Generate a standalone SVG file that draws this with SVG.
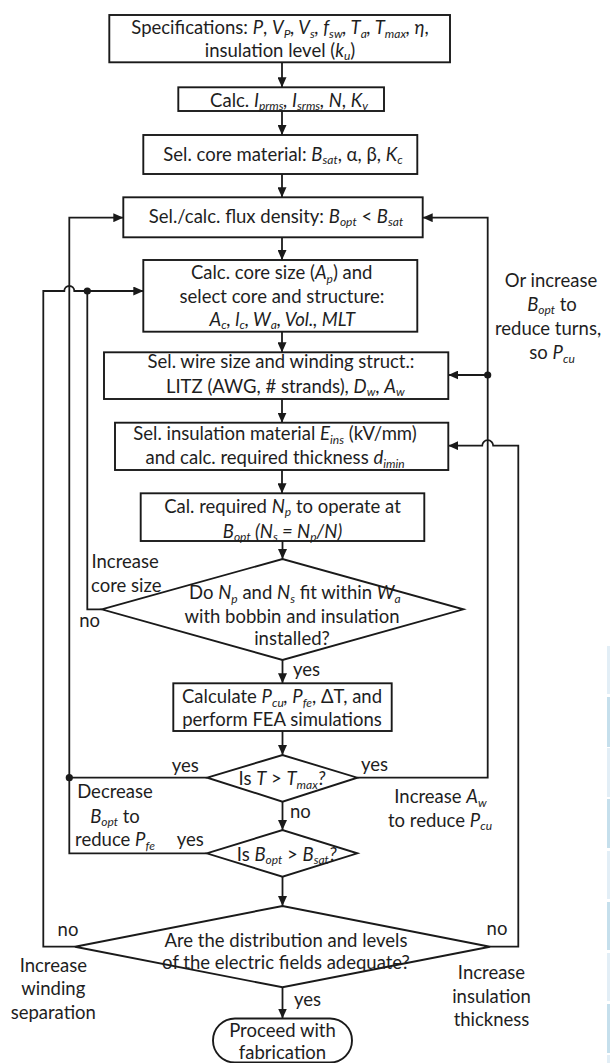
<svg xmlns="http://www.w3.org/2000/svg" width="610" height="1063" viewBox="0 0 610 1063">
<style>
.t{font-family:Lato,"Liberation Sans",sans-serif;font-size:18.5px;fill:#1e1e1e;text-anchor:middle}
.l{text-anchor:start}
.i{font-style:italic}
.s{font-size:12px;font-style:italic}
.box{fill:#fff;stroke:#1a1a1a;stroke-width:1.9}
.ln{fill:none;stroke:#1a1a1a;stroke-width:1.8}
.dot{fill:#1a1a1a}
</style>
<defs>
<marker id="ah" viewBox="0 0 10 9" refX="10" refY="4.5" markerWidth="10" markerHeight="9" markerUnits="userSpaceOnUse" orient="auto">
<path d="M0,0 L10,4.5 L0,9 z" fill="#1a1a1a"/>
</marker>
</defs>
<rect width="610" height="1063" fill="#fff"/>

<g id="connectors">
<path class="ln" d="M282,62.3 V87.3" marker-end="url(#ah)"/>
<path class="ln" d="M282,111 V135" marker-end="url(#ah)"/>
<path class="ln" d="M282,174 V197.3" marker-end="url(#ah)"/>
<path class="ln" d="M282,237.3 V260" marker-end="url(#ah)"/>
<path class="ln" d="M282,331.7 V352.3" marker-end="url(#ah)"/>
<path class="ln" d="M282,399 V422.7" marker-end="url(#ah)"/>
<path class="ln" d="M282,470 V493.3" marker-end="url(#ah)"/>
<path class="ln" d="M282.5,541 V559" marker-end="url(#ah)"/>
<path class="ln" d="M282.5,660 V683.3" marker-end="url(#ah)"/>
<path class="ln" d="M282.5,731 V755" marker-end="url(#ah)"/>
<path class="ln" d="M282.5,801.7 V830" marker-end="url(#ah)"/>
<path class="ln" d="M282.5,876.7 V906" marker-end="url(#ah)"/>
<path class="ln" d="M282.5,987.3 V1018.5" marker-end="url(#ah)"/>
<path class="ln" d="M357.3,777.7 H487.7 V217.7 H422.7" marker-end="url(#ah)"/>
<path class="ln" d="M487.7,375 H448.3" marker-end="url(#ah)"/>
<path class="ln" d="M490,946.7 H518.3 V445.7 H493.2 A5.5,5.5 0 0 0 482.2,445.7 H448.3" marker-end="url(#ah)"/>
<path class="ln" d="M207.3,777.7 H69.3"/>
<path class="ln" d="M206.7,853.3 H69.3 V217.7 H123.3" marker-end="url(#ah)"/>
<path class="ln" d="M101.7,609.3 H87.3 V291"/>
<path class="ln" d="M75,946.7 H43.3 V291 H64.3 A5,5 0 0 1 74.3,291 H143.3" marker-end="url(#ah)"/>
<circle class="dot" cx="87.3" cy="291" r="3.6"/>
<circle class="dot" cx="69.3" cy="777.7" r="3.6"/>
<circle class="dot" cx="487.7" cy="375" r="3.6"/>
</g>

<g id="n1"><rect class="box" x="109.3" y="15" width="340.7" height="47.3"/>
<text class="t" x="280" y="34.3">Specifications: <tspan class="i">P</tspan>, <tspan class="i">V</tspan><tspan class="s" dy="3.5">P</tspan><tspan class="i" dy="-3.5">, V</tspan><tspan class="s" dy="3.5">s</tspan><tspan class="i" dy="-3.5">, f</tspan><tspan class="s" dy="3.5">sw</tspan><tspan class="i" dy="-3.5">, T</tspan><tspan class="s" dy="3.5">a</tspan><tspan class="i" dy="-3.5">, T</tspan><tspan class="s" dy="3.5">max</tspan><tspan class="i" dy="-3.5">, η</tspan>,</text>
<text class="t" x="280" y="56.7">insulation level (<tspan class="i">k</tspan><tspan class="s" dy="3.5">u</tspan><tspan dy="-3.5">)</tspan></text></g>

<g id="n2"><rect class="box" x="178.3" y="87.3" width="205.7" height="23.7"/>
<text class="t" x="289" y="106.7">Calc. <tspan class="i">I</tspan><tspan class="s" dy="3.5">prms</tspan><tspan class="i" dy="-3.5">, I</tspan><tspan class="s" dy="3.5">srms</tspan><tspan class="i" dy="-3.5">, N</tspan>, <tspan class="i">K</tspan><tspan class="s" dy="3.5">v</tspan></text></g>

<g id="n3"><rect class="box" x="143.3" y="135" width="274" height="39"/>
<text class="t" x="283" y="160.7">Sel. core material: <tspan class="i">B</tspan><tspan class="s" dy="3.5">sat</tspan><tspan dy="-3.5">, α, β, </tspan><tspan class="i">K</tspan><tspan class="s" dy="3.5">c</tspan></text></g>

<g id="n4"><rect class="box" x="123.3" y="197.3" width="299.4" height="40"/>
<text class="t" x="276" y="222.7">Sel./calc. flux density: <tspan class="i">B</tspan><tspan class="s" dy="3.5">opt</tspan><tspan dy="-3.5"> &lt; </tspan><tspan class="i">B</tspan><tspan class="s" dy="3.5">sat</tspan></text></g>

<g id="n5"><rect class="box" x="143.3" y="260" width="274" height="71.7"/>
<text class="t" x="281.7" y="279.3">Calc. core size (<tspan class="i">A</tspan><tspan class="s" dy="3.5">p</tspan><tspan dy="-3.5">) and</tspan></text>
<text class="t" x="282" y="302.7">select core and structure:</text>
<text class="t i" x="282.3" y="325.7">A<tspan class="s" dy="3.5">c</tspan><tspan dy="-3.5">, l</tspan><tspan class="s" dy="3.5">c</tspan><tspan dy="-3.5">, W</tspan><tspan class="s" dy="3.5">a</tspan><tspan dy="-3.5">, Vol., MLT</tspan></text></g>

<g id="n6"><rect class="box" x="104" y="352.3" width="344.3" height="46.7"/>
<text class="t" x="281" y="368.3">Sel. wire size and winding struct.:</text>
<text class="t" x="285.3" y="392.7">LITZ (AWG, # strands), <tspan class="i">D</tspan><tspan class="s" dy="3.5">w</tspan><tspan dy="-3.5">, </tspan><tspan class="i">A</tspan><tspan class="s" dy="3.5">w</tspan></text></g>

<g id="n7"><rect class="box" x="115" y="422.7" width="333.3" height="47.3"/>
<text class="t" x="275" y="440">Sel. insulation material <tspan class="i">E</tspan><tspan class="s" dy="3.5">ins</tspan><tspan dy="-3.5"> (kV/mm)</tspan></text>
<text class="t" x="275" y="464">and calc. required thickness <tspan class="i">d</tspan><tspan class="s" dy="3.5">imin</tspan></text></g>

<g id="n8"><rect class="box" x="140.7" y="493.3" width="283.6" height="47.7"/>
<text class="t" x="282.5" y="512.7">Cal. required <tspan class="i">N</tspan><tspan class="s" dy="3.5">p</tspan><tspan dy="-3.5"> to operate at</tspan></text>
<text class="t" x="282.5" y="537.5"><tspan class="i">B</tspan><tspan class="s" dy="3.5">opt</tspan><tspan class="i" dy="-3.5"> (N</tspan><tspan class="s" dy="3.5">s</tspan><tspan class="i" dy="-3.5"> = N</tspan><tspan class="s" dy="3.5">p</tspan><tspan class="i" dy="-3.5">/N)</tspan></text></g>

<g id="n9"><polygon class="box" points="101.7,609.3 282.5,559 463.3,609.3 282.5,660"/>
<text class="t" x="294.8" y="599.3">Do <tspan class="i">N</tspan><tspan class="s" dy="3.5">p</tspan><tspan dy="-3.5"> and </tspan><tspan class="i">N</tspan><tspan class="s" dy="3.5">s</tspan><tspan dy="-3.5"> fit within </tspan><tspan class="i">W</tspan><tspan class="s" dy="3.5">a</tspan></text>
<text class="t" x="292" y="622.7">with bobbin and insulation</text>
<text class="t" x="292" y="645">installed?</text></g>

<g id="n10"><rect class="box" x="173.3" y="683.3" width="218.4" height="47.7"/>
<text class="t" x="282" y="703.3">Calculate <tspan class="i">P</tspan><tspan class="s" dy="3.5">cu</tspan><tspan class="i" dy="-3.5">, P</tspan><tspan class="s" dy="3.5">fe</tspan><tspan dy="-3.5">, ΔT, and</tspan></text>
<text class="t" x="282" y="726">perform FEA simulations</text></g>

<g id="n11"><polygon class="box" points="207.3,777.7 282.5,755 357.3,777.7 282.5,801.7"/>
<text class="t" x="282" y="785">Is <tspan class="i">T</tspan> &gt; <tspan class="i">T</tspan><tspan class="s" dy="3.5">max</tspan><tspan class="i" dy="-3.5">?</tspan></text></g>

<g id="n12"><polygon class="box" points="206.7,853.3 282.5,830 357.3,853.3 282.5,876.7"/>
<text class="t" x="286.7" y="860.7">Is <tspan class="i">B</tspan><tspan class="s" dy="3.5">opt</tspan><tspan dy="-3.5"> &gt; </tspan><tspan class="i">B</tspan><tspan class="s" dy="3.5">sat</tspan><tspan class="i" dy="-3.5">?</tspan></text></g>

<g id="n13"><polygon class="box" points="75,946.7 282.5,906 490,946.7 282.5,987.3"/>
<text class="t" x="286" y="947">Are the distribution and levels</text>
<text class="t" x="286" y="969">of the electric fields adequate?</text></g>

<g id="n14"><rect class="box" x="213" y="1018.5" width="139" height="44" rx="22"/>
<text class="t" x="282.5" y="1036.7">Proceed with</text>
<text class="t" x="282.5" y="1059">fabrication</text></g>

<g id="labels">
<text class="t" x="551" y="287.3">Or increase</text>
<text class="t" x="552" y="310.7"><tspan class="i">B</tspan><tspan class="s" dy="3.5">opt</tspan><tspan dy="-3.5"> to</tspan></text>
<text class="t" x="548" y="335">reduce turns,</text>
<text class="t" x="552" y="359">so <tspan class="i">P</tspan><tspan class="s" dy="3.5">cu</tspan></text>
<text class="t l" x="91.5" y="568.3">Increase</text>
<text class="t l" x="91" y="591.7">core size</text>
<text class="t l" x="79.3" y="626.7">no</text>
<text class="t l" x="293" y="676">yes</text>
<text class="t l" x="171.7" y="772">yes</text>
<text class="t l" x="361" y="771">yes</text>
<text class="t" x="115" y="798">Decrease</text>
<text class="t" x="115" y="822.7"><tspan class="i">B</tspan><tspan class="s" dy="3.5">opt</tspan><tspan dy="-3.5"> to</tspan></text>
<text class="t" x="115" y="846">reduce <tspan class="i">P</tspan><tspan class="s" dy="3.5">fe</tspan></text>
<text class="t l" x="290" y="818">no</text>
<text class="t l" x="176.7" y="846">yes</text>
<text class="t" x="440.5" y="803.3">Increase <tspan class="i">A</tspan><tspan class="s" dy="3.5">w</tspan></text>
<text class="t" x="440" y="826.7">to reduce <tspan class="i">P</tspan><tspan class="s" dy="3.5">cu</tspan></text>
<text class="t" x="68" y="936">no</text>
<text class="t" x="497" y="935">no</text>
<text class="t" x="53.3" y="971.5">Increase</text>
<text class="t" x="53.3" y="995">winding</text>
<text class="t" x="53.3" y="1018.5">separation</text>
<text class="t" x="491.5" y="979">Increase</text>
<text class="t" x="491.5" y="1002.5">insulation</text>
<text class="t" x="491.5" y="1026">thickness</text>
<text class="t l" x="294" y="1006">yes</text>
</g>

<g id="edge-strip">
<rect x="607" y="646" width="3" height="48" fill="#e2eef6"/>
<rect x="607" y="697" width="3" height="50" fill="#c5dfec"/>
<rect x="607" y="748" width="3" height="49" fill="#e2eef6"/>
<rect x="607" y="799" width="3" height="49" fill="#c5dfec"/>
<rect x="607" y="851" width="3" height="48" fill="#e2eef6"/>
<rect x="607" y="902" width="3" height="48" fill="#c5dfec"/>
<rect x="607" y="953" width="3" height="48" fill="#e2eef6"/>
<rect x="607" y="1004" width="3" height="49" fill="#c5dfec"/>
<rect x="607" y="1055" width="3" height="8" fill="#e2eef6"/>
</g>
</svg>
